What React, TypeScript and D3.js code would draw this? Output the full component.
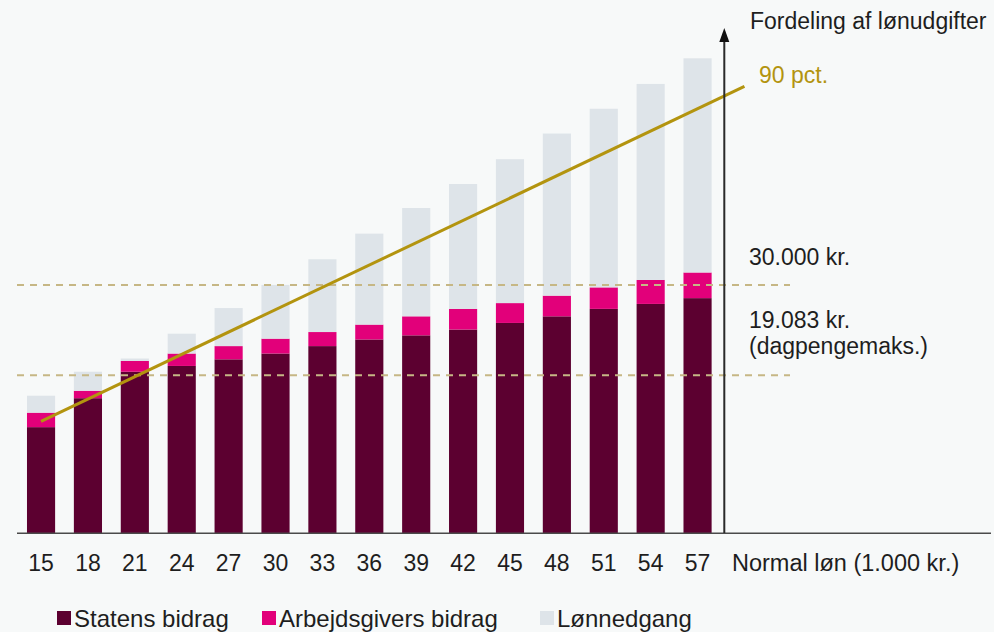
import React from "react";
import * as d3 from "d3";

const categories = ["15", "18", "21", "24", "27", "30", "33", "36", "39", "42", "45", "48", "51", "54", "57"];
const statensBidrag = [12.8, 16.3, 19.5, 20.2, 21.0, 21.7, 22.6, 23.4, 23.9, 24.6, 25.4, 26.2, 27.1, 27.7, 28.4];
const arbejdsgiversBidrag = [1.75, 0.9, 1.3, 1.5, 1.6, 1.8, 1.7, 1.8, 2.3, 2.5, 2.4, 2.5, 2.6, 2.9, 3.1];
const loennedgang = [2.05, 2.3, 0.3, 2.4, 4.6, 6.5, 8.8, 11.0, 13.1, 15.1, 17.4, 19.6, 21.6, 23.7, 25.9];

const pctLineSalary = [15, 60];
const pctLineValue = [13.5, 54];

const refLines = [
  { value: 30, labels: ["30.000 kr."] },
  { value: 19.083, labels: ["19.083 kr.", "(dagpengemaks.)"] },
];

const seriesKeys = ["statens", "arbejdsgiver", "loennedgang"];
const seriesNames = ["Statens bidrag", "Arbejdsgivers bidrag", "Lønnedgang"];
const colors = ["#5C0030", "#E2007A", "#DEE4E9"];

const W = 994;
const H = 632;
const FONT = "'Liberation Sans', Arial, sans-serif";

export default function App() {
  const x = d3.scaleBand<string>().domain(categories).range([17.6, 721]).paddingInner(0.4).paddingOuter(0.2);
  const y = d3.scaleLinear().domain([0, 60]).range([533, 533 - 60 * 8.27]);
  const bw = x.bandwidth();
  const cx = (c: string) => (x(c) as number) + bw / 2;
  const xs = d3.scaleLinear().domain([15, 57]).range([cx("15"), cx("57")]);

  const rows = categories.map((c, i) => ({
    cat: c,
    statens: statensBidrag[i],
    arbejdsgiver: arbejdsgiversBidrag[i],
    loennedgang: loennedgang[i],
  }));
  const stacked = d3.stack<any>().keys(seriesKeys)(rows);

  const line = d3
    .line<number>()
    .x((_, i) => xs(pctLineSalary[i]))
    .y((v) => y(v));

  const legendX = [57, 262, 540];

  return (
    <svg
      width={W}
      height={H}
      style={{ position: "absolute", left: 0, top: 0, background: "#F7F9F9" }}
      fontFamily={FONT}
    >
      <rect x={0} y={0} width={W} height={H} fill="#F7F9F9" />
      {stacked.map((s, si) => (
        <g key={s.key} fill={colors[si]}>
          {s.map((d: any, i: number) => (
            <rect
              key={i}
              x={x(d.data.cat)}
              y={y(d[1])}
              width={bw}
              height={Math.max(0, y(d[0]) - y(d[1]))}
            />
          ))}
        </g>
      ))}
      {refLines.map((r, i) => (
        <g key={i}>
          <line
            x1={17}
            x2={790}
            y1={y(r.value)}
            y2={y(r.value)}
            stroke="#C6B785"
            strokeWidth={2}
            strokeDasharray="7 6"
          />
          {r.labels.map((t, j) => (
            <text key={j} x={749} y={y(r.value) - (i === 0 ? 20 : 47) + j * 26} fontSize={23} fill="#1E1E1E">
              {t}
            </text>
          ))}
        </g>
      ))}
      <path d={line(pctLineValue) || ""} fill="none" stroke="#B3940F" strokeWidth={3} />
      <text x={759} y={83} fontSize={23} fill="#B3940F">
        90 pct.
      </text>
      {/* x baseline */}
      <line x1={17} x2={991} y1={533.3} y2={533.3} stroke="#4A4A4A" strokeWidth={1.5} />
      {/* vertical axis with arrow */}
      <line x1={724.3} x2={724.3} y1={533} y2={40} stroke="#2A2A2A" strokeWidth={2} />
      <path d="M 724.3 28 L 729.3 42 L 719.3 42 Z" fill="#111" />
      <text x={750} y={29} fontSize={23} fill="#1E1E1E">
        Fordeling af lønudgifter
      </text>
      {categories.map((c) => (
        <text key={c} x={cx(c)} y={570.5} fontSize={23} textAnchor="middle" fill="#1E1E1E">
          {c}
        </text>
      ))}
      <text x={732} y={570.5} fontSize={23.5} fill="#1E1E1E">
        Normal løn (1.000 kr.)
      </text>
      {seriesNames.map((n, i) => (
        <g key={n}>
          <rect x={legendX[i]} y={611} width={14} height={14} fill={colors[i]} />
          <text x={legendX[i] + 17} y={627} fontSize={24} fill="#1E1E1E">
            {n}
          </text>
        </g>
      ))}
    </svg>
  );
}
